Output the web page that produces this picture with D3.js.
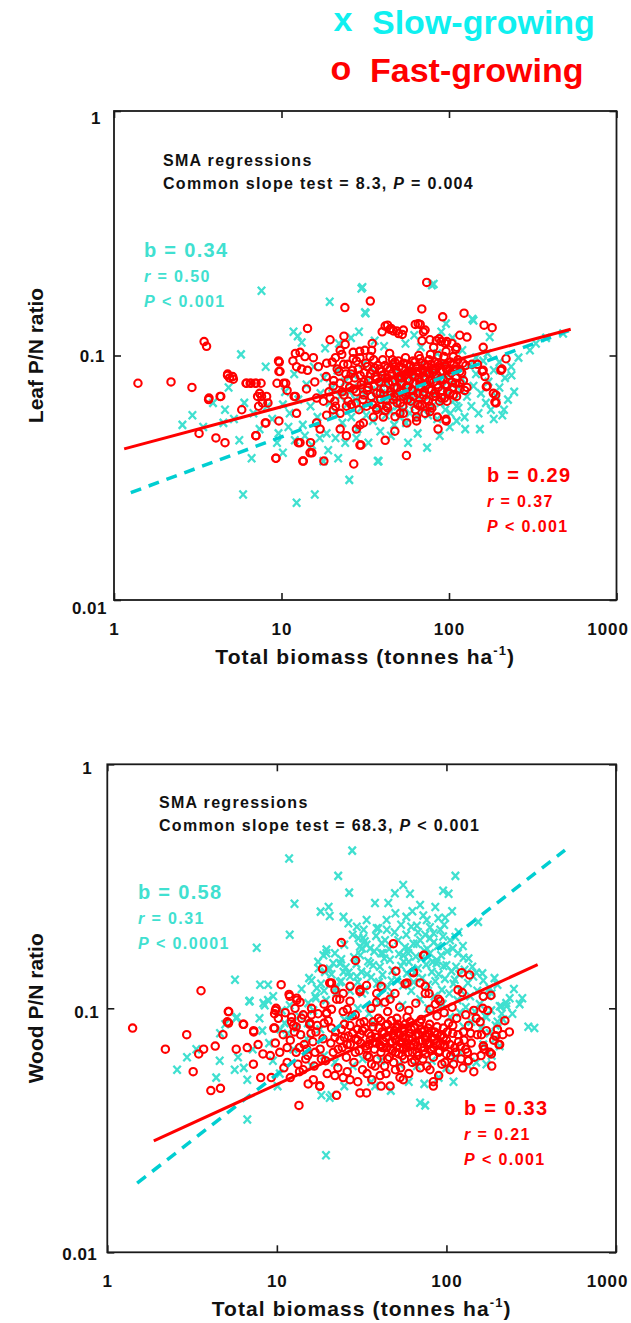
<!DOCTYPE html>
<html><head><meta charset="utf-8">
<script src="https://cdn.jsdelivr.net/npm/d3@7"></script>
<style>
body{margin:0;background:#fff}
svg{display:block}
text{font-family:"Liberation Sans",Arial,Helvetica,sans-serif;font-weight:bold}
</style></head>
<body><svg id="c" width="631" height="1323"></svg>
<script>
// ---------- axis ticks ----------
const xTickValues = [1, 10, 100, 1000];
const xTickLabels = ["1", "10", "100", "1000"];
const yTickValues = [0.01, 0.1, 1];
const yTickLabels = ["0.01", "0.1", "1"];
const seriesNames = ["Slow-growing", "Fast-growing"];

// ---------- Leaf P/N: slow-growing (x = total biomass, y = P/N) ----------
const leafSlow = [
[7.6,0.184],[30,0.188],[19.4,0.166],[31.8,0.149],[11.8,0.125],[5.73,0.101],[8.05,0.09],[4.83,0.074],[2.94,0.057],[2.56,0.052],
[3.41,0.051],[4.5,0.053],[5.6,0.045],[6.63,0.038],[5.9,0.027],[12.3,0.025],[15.8,0.027],[25.4,0.031],[17.8,0.037],[38,0.037],
[21.8,0.038],[10.2,0.04],[9.4,0.044],[74,0.042],[153,0.05],[185,0.055],[213,0.06],[236,0.083],[138,0.141],[175,0.119],
[81,0.196],[30.4,0.19],[96,0.135],[304,0.105],[101,0.051],[57,0.044],[111,0.054],[111,0.062],[82,0.08],[480,0.123],
[37.5,0.037],[31.5,0.15],[79,0.194],[140,0.139],
[10.5,0.071],[11.2,0.058],[11.9,0.084],[12.6,0.066],[13.4,0.052],[14.1,0.076],[14.9,0.062],[15.6,0.09],[16.4,0.056],[17.1,0.07],
[17.9,0.081],[18.6,0.048],[19.4,0.064],[20.1,0.074],[20.9,0.059],[21.6,0.087],[22.4,0.068],[23.1,0.053],[23.9,0.078],[24.6,0.063],
[25.4,0.071],[26.1,0.056],[26.9,0.083],[27.6,0.066],[28.4,0.05],[29.1,0.074],[29.9,0.061],[30.6,0.092],[31.4,0.069],[32.1,0.057],
[32.9,0.079],[33.6,0.064],[34.4,0.072],[35.1,0.054],[35.9,0.086],[36.6,0.067],[37.4,0.06],[38.1,0.075],[38.9,0.049],[39.6,0.07],
[40.4,0.082],[41.1,0.063],[41.9,0.057],[42.6,0.077],[43.4,0.068],[44.1,0.091],[44.9,0.059],[45.6,0.073],[46.4,0.065],[47.1,0.052],
[47.9,0.08],[48.6,0.07],[49.4,0.062],[50.1,0.085],[50.9,0.056],[51.6,0.074],[52.4,0.067],[53.1,0.079],[53.9,0.06],[54.6,0.071],
[55.4,0.053],[56.1,0.088],[56.9,0.065],[57.6,0.076],[58.4,0.058],[59.1,0.069],[60,0.082],[61.5,0.063],[63,0.073],[64.5,0.056],
[66,0.079],[67.5,0.066],[69,0.091],[70.5,0.06],[72,0.072],[73.5,0.084],[75,0.057],[76.5,0.068],[78,0.077],[79.5,0.062],
[81,0.087],[83,0.07],[85,0.055],[87,0.081],[89,0.064],[91,0.074],[93,0.093],[95,0.06],[97,0.069],[99,0.083],
[102,0.058],[105,0.076],[108,0.066],[111,0.088],[114,0.061],[117,0.072],[120,0.08],[124,0.056],[128,0.068],[132,0.091],
[136,0.062],[140,0.075],[145,0.084],[150,0.058],[155,0.07],[160,0.095],[166,0.064],[172,0.078],[178,0.06],[185,0.087],
[192,0.068],[200,0.074],[208,0.057],[216,0.081],[225,0.066],[235,0.09],[245,0.071],
[12.5,0.12],[13.2,0.113],[18.2,0.107],[22,0.112],[26,0.118],[29,0.125],[36,0.115],[41,0.109],[55,0.112],[62,0.121],
[68,0.108],[85,0.102],[90,0.125],[105,0.118],[120,0.105],[145,0.098],[170,0.102],[200,0.094],[260,0.098],[330,0.112],[380,0.118],
[3.9,0.064],[4.6,0.06],[5.2,0.055],[6,0.064],[6.8,0.058],[7.4,0.05],[8.2,0.062],[8.8,0.055],[9.6,0.048],[10.2,0.063],
[11,0.051],[12,0.045],[13.8,0.047],[15.2,0.043],[16.9,0.046],[19,0.041],[21,0.046],[24,0.044],[28,0.046],[33,0.044],
[45,0.047],[65,0.048],[88,0.047],[125,0.05]
];

// ---------- Leaf P/N: fast-growing ----------
const leafFast = [
[1.39,0.077],[2.19,0.078],[2.92,0.074],[3.45,0.114],[3.57,0.109],[3.67,0.066],[4.34,0.068],[3.22,0.048],[4.06,0.046],[4.6,0.044],
[4.77,0.084],[5.11,0.082],[5.79,0.06],[6.19,0.077],[6.58,0.077],[7.06,0.077],[7.55,0.077],[7.02,0.047],[8,0.053],[7.2,0.068],
[7.7,0.064],[8.15,0.068],[9.25,0.038],[9.7,0.094],[9.65,0.086],[9.4,0.077],[10.6,0.077],[9.65,0.054],[11.9,0.068],[11.7,0.095],
[12.3,0.058],[12.9,0.044],[13.4,0.037],[14.3,0.129],[14.9,0.044],[15.2,0.04],[23.9,0.157],[33.9,0.167],[27,0.036],
[73.6,0.199],[68.8,0.155],[91.7,0.144],[123,0.149],[162,0.133],[181,0.13],[62.9,0.134],[67.3,0.134],[70.4,0.125],[39.9,0.125],
[43,0.133],[45.1,0.129],[48.7,0.126],[52.6,0.122],[19.5,0.116],[23.6,0.12],[34.8,0.112],[34.5,0.105],[77,0.116],[87.4,0.117],
[94.9,0.112],[109.6,0.106],[116,0.121],[128,0.119],[160,0.108],[219,0.097],[204,0.087],[160,0.087],[148,0.092],[137,0.092],
[184,0.07],[191,0.064],[169,0.075],[164,0.082],[128,0.074],[111,0.068],[97.3,0.065],[96.2,0.054],[85.3,0.056],[77,0.059],
[55.7,0.039],[41.6,0.045],[47.5,0.049],[29.8,0.043],[17.9,0.037],[13.5,0.037],[14.8,0.04],[12.6,0.044],[9.27,0.038],[8.07,0.053],
[7.05,0.047],[4.3,0.068],[3.69,0.067],
[207,0.088],[158,0.086],[167,0.0745],[190,0.069],[188,0.0645],[116,0.077],[124,0.072],[96,0.0548],[77,0.062],[72,0.058],
[86,0.05],[30.8,0.053],[28,0.05],[29.4,0.043],[41.6,0.0595],[47.6,0.0562],[53.4,0.058],[64,0.054],[111,0.108],[104,0.112],
[97,0.114],[81,0.108],[84,0.115],[90,0.114],[69,0.115],[72,0.127],[41.6,0.132],[44.4,0.128],[46.5,0.126],[50,0.123],[53.4,0.127],[65.5,0.135],
[18.5,0.082],[19.2,0.071],[20.1,0.094],[20.8,0.065],[21.5,0.088],[22.3,0.077],[22.9,0.101],[23.6,0.069],[24.2,0.084],[24.9,0.092],
[25.5,0.074],[26.1,0.063],[26.8,0.097],[27.4,0.081],[28,0.071],[28.7,0.088],[29.3,0.104],[29.9,0.076],[30.6,0.066],[31.2,0.085],
[31.8,0.093],[32.5,0.072],[33.1,0.079],[33.8,0.099],[34.4,0.068],[35,0.087],[35.7,0.075],[36.3,0.082],[37,0.061],[37.6,0.091],
[38.3,0.078],[38.9,0.07],[39.6,0.086],[40.2,0.096],[40.9,0.073],[41.5,0.081],[42.2,0.066],[42.9,0.089],[43.5,0.077],[44.2,0.102],
[44.9,0.071],[45.6,0.084],[46.3,0.092],[47,0.068],[47.7,0.079],[48.4,0.087],[49.1,0.074],[49.8,0.095],[50.5,0.082],[51.2,0.064],
[52,0.077],[52.7,0.089],[53.5,0.071],[54.2,0.083],[55,0.098],[55.8,0.075],[56.6,0.066],[57.4,0.086],[58.2,0.079],[59,0.091],
[59.9,0.072],[60.7,0.083],[61.6,0.068],[62.5,0.094],[63.4,0.077],[64.3,0.086],[65.2,0.063],[66.1,0.081],[67.1,0.097],[68,0.074],
[69,0.088],[70,0.069],[71,0.082],[72,0.092],[73.1,0.076],[74.2,0.085],[75.3,0.065],[76.4,0.079],[77.5,0.101],[78.7,0.072],
[79.9,0.087],[81.1,0.078],[82.3,0.094],[83.6,0.068],[84.9,0.083],[86.2,0.074],[87.6,0.091],[89,0.08],[90.4,0.067],[91.9,0.086],
[93.4,0.099],[95,0.076],[96.6,0.088],[98.2,0.071],[100,0.083],[102,0.094],[104,0.078],[106,0.069],[108,0.087],[110,0.081],
[113,0.096],[116,0.073],[119,0.085],[122,0.079],[126,0.091],
[20.5,0.079],[22,0.086],[23.5,0.092],[25,0.08],[26.5,0.087],[28,0.095],[29.5,0.083],[31,0.078],[32.5,0.09],[34,0.084],
[35.5,0.096],[37,0.08],[38.5,0.088],[40,0.083],[41.5,0.091],[43,0.081],[44.5,0.088],[46,0.078],[47.5,0.094],[49,0.085],
[50.5,0.09],[52,0.081],[53.5,0.093],[55,0.084],[56.5,0.08],[58,0.09],[59.5,0.086],[61,0.095],[62.5,0.082],[64,0.09],
[65.5,0.085],[67,0.078],[68.5,0.093],[70,0.087],[72,0.08],[74,0.09],[76,0.084],[78,0.092],[80,0.085],[83,0.088],
[86,0.093],[89,0.086],[92,0.08],[95,0.091],[99,0.087],[103,0.085],[107,0.092],[111,0.088],[116,0.086],[121,0.093],
[9.6,0.095],[12.1,0.102],[12.9,0.103],[13.8,0.099],[15.5,0.098],[16.6,0.09],[18.6,0.093],[12.3,0.09],[13.2,0.088],[14.3,0.087],
[9.8,0.086],[10.3,0.077],[10.8,0.072],[12.1,0.068],[14.1,0.073],[15.8,0.078],[16.2,0.067],[17.8,0.065],[19.5,0.067],[20.4,0.075],
[21,0.098],[22.4,0.105],[24,0.111],[26.8,0.103],[29.4,0.098],[31.5,0.105],[7.4,0.07],[8.3,0.064],[7.3,0.062],[7.6,0.068],
[6.5,0.077],[6.95,0.077],[6.14,0.077],[4.9,0.081],[5.16,0.08],[4.76,0.083],[24.4,0.062],[22.4,0.058],[20.4,0.06],[18.6,0.057],
[16.2,0.053],[17,0.05],[22.4,0.05],[24.4,0.047],[29.4,0.052],[35.4,0.056],[40.5,0.056],[51,0.058],[56,0.053],[64,0.056],
[28,0.064],[32.2,0.062],[37,0.06],[42.4,0.062],[46.5,0.066],[53.4,0.068],[61,0.068],[67,0.062],[80.6,0.068],
[21,0.062],[23,0.071],[25,0.065],[27,0.073],[29,0.06],[31,0.069],[33,0.074],[35,0.063],[37,0.07],[39,0.066],
[41,0.073],[43,0.061],[45,0.069],[47,0.074],[49,0.064],[51,0.071],[53,0.062],[55,0.069],[57,0.074],[59,0.065],
[61,0.072],[63,0.06],[65,0.07],[67,0.075],[69,0.063],[71,0.071],[73,0.066],[76,0.073],[79,0.061],[82,0.07],
[85,0.076],[88,0.065],[91,0.072],[94,0.067],[97,0.075],[101,0.07],[105,0.074],[109,0.077],[26,0.084],[36,0.089],
[46,0.096],[56,0.092],[66,0.1],[76,0.096],[86,0.1],[96,0.104],[106,0.099]
];

// ---------- Wood P/N: slow-growing ----------
const woodSlow = [
[11.8,0.411],[27.8,0.443],[23,0.349],[26.7,0.298],[12.7,0.268],[11.9,0.2],[7.6,0.177],[18.1,0.249],[20.2,0.26],[20.5,0.239],
[24.7,0.237],[37.9,0.27],[45.4,0.27],[55.6,0.32],[49.7,0.296],[69.9,0.265],[33.8,0.23],[38.8,0.213],[44.4,0.23],[26.4,0.223],
[29.6,0.216],[30.3,0.194],[32.3,0.194],[33.8,0.182],[31.8,0.176],[19.6,0.168],[42.2,0.168],[55.6,0.165],[63.9,0.184],[58,0.237],
[67,0.218],[76.5,0.23],[21.5,0.153],[23.5,0.153],[29.6,0.135],[24.7,0.141],[19.2,0.141],[17.2,0.121],[22.4,0.121],[27,0.135],
[5.66,0.131],[7.96,0.125],[8.88,0.125],[6.87,0.107],[8.33,0.105],[9.51,0.112],[10.7,0.098],[5.8,0.092],[4.62,0.079],[13.1,0.083],
[15.2,0.087],[16.4,0.098],[31.8,0.115],[37,0.087],
[113,0.349],[95.6,0.303],[103,0.295],[61,0.295],[39.7,0.213],[89.6,0.234],[98.3,0.235],[154,0.226],[75,0.2],[80,0.194],
[84,0.203],[67,0.184],[59.6,0.168],[41.2,0.168],[35.4,0.153],[24,0.159],[18.8,0.165],[30.9,0.179],[33,0.188],[95.6,0.197],
[109,0.176],[117,0.168],[114,0.148],[128,0.144],[87.4,0.153],[144,0.135],[180,0.121],[236,0.11],[210,0.102],[304,0.084],
[216,0.09],[172,0.092],[194,0.075],[185,0.064],[126,0.084],[112,0.131],[17.6,0.146],[19.6,0.174],[23.7,0.153],
[172,0.059],[206,0.07],[112,0.0625],[69.9,0.041],[75,0.04],[37.9,0.048],[18.3,0.044],[21,0.044],[19.5,0.025],[226,0.102],[206,0.102],
[2.58,0.056],[2.95,0.063],[3.35,0.068],[4.6,0.061],[4.39,0.052],[5.64,0.056],[5.9,0.063],[6.38,0.057],[6.69,0.051],[6.69,0.035],
[5.76,0.091],[4.96,0.086],[6.92,0.107],[7.9,0.091],[8.48,0.103],[8.87,0.108],[11.9,0.103],[9.48,0.061],[10.4,0.054],[10.1,0.048],
[11.1,0.087],[11.6,0.079],[15.3,0.105],[17,0.11],[20.5,0.043],
[14,0.12],[15.5,0.133],[16.8,0.112],[18.2,0.126],[19.5,0.108],[21,0.138],[22.5,0.116],[24,0.129],[25.5,0.147],[27,0.118],
[28.5,0.162],[30,0.128],[31.5,0.141],[33,0.119],[34.5,0.156],[36,0.134],[37.5,0.171],[39,0.126],[40.5,0.148],[42,0.137],
[43.5,0.19],[45,0.122],[46.5,0.158],[48,0.143],[49.5,0.205],[51,0.131],[52.5,0.167],[54,0.149],[55.5,0.124],[57,0.178],
[58.5,0.139],[60,0.155],[62,0.216],[64,0.128],[66,0.163],[68,0.146],[70,0.19],[72,0.133],[74,0.172],[76,0.151],
[78,0.125],[80,0.168],[82,0.141],[84,0.186],[86,0.129],[88,0.157],[90,0.138],[92,0.21],[94,0.119],[96,0.149],
[98,0.132],[101,0.171],[104,0.115],[107,0.142],[110,0.126],[113,0.196],[116,0.108],[119,0.138],[122,0.118],[126,0.161],
[130,0.101],[134,0.127],[138,0.112],[142,0.148],[147,0.097],[152,0.118],[157,0.104],[163,0.139],[169,0.093],[176,0.112],
[184,0.098],[192,0.133],[200,0.088],[212,0.095],
[16,0.058],[19,0.064],[22,0.06],[25,0.048],[28,0.058],[32,0.062],[36,0.05],[41,0.061],[47,0.046],[53,0.059],
[60,0.05],[67,0.058],[74,0.049],[82,0.061],[90,0.052],[100,0.057],[110,0.05],[120,0.066],[135,0.058],[150,0.06],
[165,0.071],[180,0.079],[195,0.085],[245,0.095],[270,0.104],[330,0.083],
[25,0.09],[30,0.1],[35,0.095],[40,0.105],[47,0.112],[55,0.103],[62,0.118],[70,0.109],[78,0.1],[85,0.112],
[95,0.104],[105,0.092],[120,0.096],[140,0.088],[160,0.083],[15,0.075],[18,0.082],[12.5,0.068],[13.5,0.093],[10.5,0.082],
[9,0.072],[8.2,0.081],[7.2,0.068],
[16,0.13],[17.5,0.155],[19,0.118],[20.5,0.145],[22,0.168],[23.5,0.128],[25,0.182],[26.5,0.14],[28,0.2],[29.5,0.152],
[31,0.165],[32.5,0.21],[34,0.138],[35.5,0.176],[37,0.15],[38.5,0.198],[40,0.128],[41.5,0.185],[43,0.16],[44.5,0.21],
[46,0.175],[47.5,0.13],[50,0.245],[52,0.19],[54,0.22],[56,0.155],[58,0.2],[60,0.175],[63,0.25],[65,0.14],
[68,0.205],[71,0.16],[73,0.24],[77,0.175],[80,0.215],[83,0.155],[86,0.26],[89,0.18],[93,0.165],[97,0.22],
[100,0.15],[105,0.19],[108,0.25],[118,0.205],[125,0.18],[135,0.16],[150,0.14],[165,0.13],[185,0.115],[200,0.125],
[225,0.105],[250,0.12],[280,0.11]
];

// ---------- Wood P/N: fast-growing ----------
const woodFast = [
[3.57,0.118],[1.41,0.083],[2.94,0.078],[5.17,0.097],[5.1,0.088],[6.33,0.086],[7.3,0.081],[9.6,0.083],[9.8,0.098],[10.6,0.125],
[11.8,0.114],[13.1,0.11],[13.7,0.106],[16,0.1],[18.6,0.145],[24,0.186],[29.1,0.157],[48.6,0.184],[20.5,0.127],[23.5,0.109],
[27,0.107],[30.9,0.117],[33.8,0.124],[38.8,0.106],[43.4,0.106],[49.7,0.115],[57,0.126],[63.9,0.141],[73.3,0.165],[75,0.115],
[51,0.083],[24.6,0.097],[19.7,0.096],[14.3,0.094],[12.2,0.088],[15.7,0.087],
[2.2,0.068],[3.21,0.055],[3.46,0.065],[3.7,0.068],[4.08,0.046],[4.65,0.047],[4.33,0.07],[4.81,0.078],[5.19,0.087],[5.2,0.097],
[5.76,0.068],[6.37,0.086],[6.69,0.069],[7.3,0.08],[7.27,0.059],[7.75,0.071],[8.28,0.065],[8.03,0.052],[9.27,0.052],[9.14,0.064],
[9.69,0.083],[9.9,0.1],[9.69,0.095],[11.9,0.112],[13.1,0.108],[12.2,0.092],[12.7,0.08],[13.6,0.069],[13.3,0.059],[13.6,0.055],
[13.5,0.04],[15.3,0.049],[16,0.094],[15.6,0.086],[16.3,0.073],[18.3,0.062],[17.9,0.048],[19.6,0.095],
[221,0.089],[185,0.058],[206,0.071],[196,0.077],[161,0.078],[167,0.068],[134,0.061],[105,0.056],[83.7,0.05],[83.7,0.048],
[55.6,0.051],[53.2,0.052],[46.5,0.048],[41.2,0.048],[33.8,0.045],[30.9,0.045],[36.3,0.051],[40.6,0.053],[22.5,0.044],[17.9,0.048],
[16.4,0.051],[14.3,0.056],[27,0.051],[24.6,0.052],
[74,0.165],[50.3,0.142],[64,0.14],[123,0.14],[137,0.137],[117,0.119],[124,0.116],[165,0.112],[183,0.113],[164,0.1],
[194,0.077],[204,0.071],[165,0.07],[184,0.065],[135,0.061],[89.7,0.109],[91.7,0.107],[70,0.127],[75,0.123],[79,0.115],
[58.5,0.127],[46.5,0.109],[21,0.127],[22,0.119],[22.5,0.109],[24.6,0.115],[27,0.123],[30.9,0.119],[38.8,0.115],[41.2,0.123],
[14.5,0.071],[15.2,0.064],[15.9,0.079],[16.6,0.058],[17.3,0.085],[18,0.068],[18.7,0.075],[19.4,0.061],[20.1,0.089],[20.8,0.072],
[21.5,0.066],[22.2,0.08],[22.9,0.057],[23.6,0.074],[24.3,0.069],[25,0.086],[25.7,0.063],[26.4,0.077],[27.1,0.071],[27.8,0.093],
[28.5,0.06],[29.2,0.075],[29.9,0.082],[30.6,0.067],[31.3,0.072],[32,0.056],[32.7,0.088],[33.4,0.07],[34.1,0.064],[34.8,0.079],
[35.5,0.074],[36.2,0.059],[36.9,0.084],[37.6,0.068],[38.3,0.076],[39,0.062],[39.7,0.091],[40.4,0.071],[41.1,0.066],[41.8,0.08],
[42.5,0.073],[43.2,0.058],[43.9,0.085],[44.6,0.069],[45.3,0.077],[46,0.063],[46.7,0.072],[47.4,0.089],[48.1,0.067],[48.8,0.06],
[49.5,0.081],[50.2,0.074],[50.9,0.07],[51.6,0.086],[52.3,0.065],[53,0.078],[53.7,0.057],[54.4,0.073],[55.1,0.083],[55.8,0.068],
[56.5,0.062],[57.2,0.076],[57.9,0.071],[58.6,0.092],[59.3,0.066],[60,0.079],[61.4,0.07],[62.8,0.06],[64.2,0.084],[65.6,0.073],
[67,0.066],[68.4,0.078],[69.8,0.088],[71.2,0.069],[72.6,0.062],[74,0.081],[75.4,0.074],[76.8,0.058],[78.2,0.071],[79.6,0.086],
[81,0.067],[82.4,0.076],[83.8,0.063],[85.2,0.08],[86.6,0.072],[88,0.093],[90,0.066],[92,0.077],[94,0.059],[96,0.083],
[98,0.07],[100,0.074],[103,0.087],[106,0.064],[109,0.079],[112,0.069],[115,0.091],[118,0.073],[122,0.062],[126,0.08],
[130,0.068],[135,0.085],[140,0.072],[146,0.063],[152,0.078],[158,0.088],[165,0.07],[172,0.081],[180,0.066],[190,0.074],
[22,0.076],[24,0.082],[26,0.071],[28,0.079],[30,0.074],[32,0.081],[34,0.068],[36,0.077],[38,0.072],[40,0.083],
[42,0.069],[44,0.076],[46,0.081],[48,0.073],[50,0.066],[52,0.079],[54,0.072],[56,0.08],[58,0.069],[60,0.075],
[62,0.082],[64,0.071],[66,0.077],[68,0.064],[70,0.074],[72,0.08],[74,0.069],[76,0.077],[78,0.083],[80,0.072],
[84,0.069],[88,0.078],[92,0.071],[96,0.076],[100,0.065],[35,0.063],[45,0.062],[55,0.064],[65,0.061],[75,0.065],
[31,0.087],[41,0.089],[51,0.091],[61,0.088],[71,0.09],
[9.8,0.072],[10.4,0.066],[10.9,0.078],[11.5,0.06],[12,0.074],[12.5,0.085],[13,0.066],[13.8,0.078],[14,0.091],[10.2,0.091],
[11.2,0.096],[12.8,0.1],[17.5,0.095],[19,0.104],[21,0.099],[11,0.057],[12,0.052],[14.8,0.062],[16.8,0.066],[19.8,0.054],
[22,0.053],[26,0.055],[30,0.05],[34,0.054],[38,0.058],[44,0.054],[50,0.056],[60,0.054],[70,0.057],[80,0.056],
[90,0.053],[98,0.06],[110,0.059],[125,0.057],[145,0.055],[160,0.064],
[26,0.099],[29,0.094],[36,0.1],[45,0.097],[53,0.101],[60,0.098],[66,0.105],[80,0.099],[86,0.104],[97,0.096],
[108,0.101],[130,0.094],[145,0.098],[150,0.091],[175,0.098],[200,0.082],[215,0.078],[235,0.08],
[21,0.083],[23,0.068],[25,0.076],[27,0.085],[29,0.066],[31,0.078],[33,0.083],[35,0.071],[37,0.088],[39,0.076],
[41,0.07],[43,0.079],[45,0.086],[47,0.068],[49,0.077],[51,0.084],[53,0.069],[55,0.076],[57,0.086],[59,0.072],
[61,0.079],[63,0.066],[65,0.083],[67,0.07],[69,0.078],[71,0.082],[73,0.067],[75,0.077],[77,0.072],[79,0.079],
[82,0.068],[85,0.075],[88,0.084],[91,0.067],[94,0.078],[97,0.071],[101,0.08],[105,0.071],[109,0.085],[113,0.066],
[117,0.078],[121,0.07],[127,0.074],[133,0.066],[139,0.079],[17,0.08],[19,0.087],[15,0.068],[13,0.084],[11.5,0.069]
];

// ---------- SMA regression lines (endpoints, data units) ----------
const leafSlowFit = [[1.26,0.0275],[530,0.127]];
const leafFastFit = [[1.15,0.0415],[533,0.128]];
const woodSlowFit = [[1.5,0.0192],[500,0.445]];
const woodFastFit = [[1.88,0.0286],[345,0.151]];

// ---------- annotation texts ----------
const leafStats = {test:["8.3", "= 0.004"], slow:["0.34","0.50","< 0.001"], fast:["0.29","0.37","< 0.001"]};
const woodStats = {test:["68.3", "< 0.001"], slow:["0.58","0.31","< 0.0001"], fast:["0.33","0.21","< 0.001"]};

// ---------- drawing ----------
const TURQ = "#40e0d0", DASH = "#00ced1", RED = "#ff0000", LEGCYAN = "#0ff0f0", FRAME = "#1a1a1a";
const svg = d3.select("#c");

// legend
const leg = svg.append("g");
leg.append("text").attr("x",343).attr("y",31).attr("text-anchor","middle").attr("font-size",34).attr("fill",LEGCYAN).text("x");
leg.append("text").attr("x",372).attr("y",34).attr("font-size",34).attr("fill",LEGCYAN).text(seriesNames[0]);
leg.append("text").attr("x",341).attr("y",80).attr("text-anchor","middle").attr("font-size",34).attr("fill",RED).text("o");
leg.append("text").attr("x",370).attr("y",82).attr("font-size",34).attr("fill",RED).text(seriesNames[1]);

function panel(cfg){
  const g = svg.append("g");
  const x = d3.scaleLog().domain([1,1000]).range([cfg.left,cfg.right]);
  const y = d3.scaleLog().domain([0.01,1]).range([cfg.bottom,cfg.top]);

  // slow-growing x markers
  g.append("g").selectAll("path").data(cfg.slow).join("path")
    .attr("transform", d => `translate(${x(d[0]).toFixed(1)},${y(d[1]).toFixed(1)})`)
    .attr("d","M-3.7,-4L3.7,4M3.7,-4L-3.7,4")
    .attr("fill","none").attr("stroke",TURQ).attr("stroke-width",2.3);
  // fast-growing o markers
  g.append("g").selectAll("circle").data(cfg.fast).join("circle")
    .attr("cx", d => x(d[0])).attr("cy", d => y(d[1])).attr("r",3.7)
    .attr("fill","none").attr("stroke",RED).attr("stroke-width",2.1);

  const line = d3.line().x(d => x(d[0])).y(d => y(d[1]));
  g.append("path").datum(cfg.slowFit).attr("d",line).attr("fill","none")
    .attr("stroke",DASH).attr("stroke-width",3.5).attr("stroke-dasharray","11,8");
  g.append("path").datum(cfg.fastFit).attr("d",line).attr("fill","none")
    .attr("stroke",RED).attr("stroke-width",3);

  // frame
  g.append("rect").attr("x",cfg.left).attr("y",cfg.top)
    .attr("width",cfg.right-cfg.left).attr("height",cfg.bottom-cfg.top)
    .attr("fill","none").attr("stroke",FRAME).attr("stroke-width",1.8);

  // axes (inward ticks on all four sides)
  const styleAxis = sel => {
    sel.select(".domain").remove();
    sel.selectAll(".tick line").attr("stroke",FRAME).attr("stroke-width",1.6);
    sel.attr("font-family",null).attr("font-size",null);
  };
  const xb = g.append("g").attr("transform",`translate(0,${cfg.bottom})`)
    .call(d3.axisBottom(x).tickValues(xTickValues).tickFormat((d,i)=>xTickLabels[i])
      .tickSizeInner(-7).tickSizeOuter(0).tickPadding(23)).call(styleAxis);
  xb.selectAll(".tick text").attr("font-size",17).attr("letter-spacing","1px").attr("fill","#111")
    .attr("dy",null).attr("y",35)
    .attr("text-anchor",(d,i)=> i===xTickValues.length-1 ? "end" : "middle")
    .attr("x",(d,i)=> i===xTickValues.length-1 ? 12 : 0);
  g.append("g").attr("transform",`translate(0,${cfg.top})`)
    .call(d3.axisTop(x).tickValues(xTickValues).tickFormat("").tickSizeInner(-7).tickSizeOuter(0)).call(styleAxis);
  const yl = g.append("g").attr("transform",`translate(${cfg.left},0)`)
    .call(d3.axisLeft(y).tickValues(yTickValues).tickFormat((d,i)=>yTickLabels[i])
      .tickSizeInner(-7).tickSizeOuter(0).tickPadding(8)).call(styleAxis);
  yl.selectAll(".tick text").attr("font-size",17).attr("letter-spacing","0.5px").attr("fill","#111")
    .attr("dy",null).attr("y",(d,i)=>cfg.yLabDy[i]).attr("x",(d,i)=>cfg.yLabDx[i]);
  g.append("g").attr("transform",`translate(${cfg.right},0)`)
    .call(d3.axisRight(y).tickValues(yTickValues).tickFormat("").tickSizeInner(-7).tickSizeOuter(0)).call(styleAxis);

  // axis titles
  const xt = g.append("text").attr("x",(cfg.left+cfg.right)/2).attr("y",cfg.bottom+64)
    .attr("text-anchor","middle").attr("font-size",21).attr("letter-spacing","1.1px").attr("fill","#111");
  xt.append("tspan").text("Total biomass (tonnes ha");
  xt.append("tspan").attr("font-size",13).attr("dy",-9).text("-1");
  xt.append("tspan").attr("dy",9).text(")");
  g.append("text").attr("transform",`translate(43,${(cfg.top+cfg.bottom)/2}) rotate(-90)`)
    .attr("text-anchor","middle").attr("font-size",21).attr("fill","#111").text(cfg.ytitle);

  // SMA header
  g.append("text").attr("x",cfg.sma[0]).attr("y",cfg.sma[1]).attr("font-size",16)
    .attr("letter-spacing","1.3px").attr("fill","#111").text("SMA regressions");
  const ct = g.append("text").attr("x",cfg.sma[0]).attr("y",cfg.sma[1]+23).attr("font-size",16)
    .attr("letter-spacing","1.3px").attr("fill","#111");
  ct.append("tspan").text(`Common slope test = ${cfg.stats.test[0]}, `);
  ct.append("tspan").attr("font-style","italic").text("P");
  ct.append("tspan").text(` ${cfg.stats.test[1]}`);

  // per-group statistics
  const statBlock = (pos, s, color) => {
    g.append("text").attr("x",pos[0]).attr("y",pos[1]).attr("font-size",20)
      .attr("letter-spacing","1.3px").attr("fill",color).text(`b = ${s[0]}`);
    const r = g.append("text").attr("x",pos[0]).attr("y",pos[1]+25).attr("font-size",16)
      .attr("letter-spacing","1.4px").attr("fill",color);
    r.append("tspan").attr("font-style","italic").text("r");
    r.append("tspan").text(` = ${s[1]}`);
    const p = g.append("text").attr("x",pos[0]).attr("y",pos[1]+50).attr("font-size",16)
      .attr("letter-spacing","1.4px").attr("fill",color);
    p.append("tspan").attr("font-style","italic").text("P");
    p.append("tspan").text(` ${s[2]}`);
  };
  statBlock(cfg.slowPos, cfg.stats.slow, TURQ);
  statBlock(cfg.fastPos, cfg.stats.fast, RED);
}

panel({left:114, right:616.5, top:111, bottom:600, slow:leafSlow, fast:leafFast,
  slowFit:leafSlowFit, fastFit:leafFastFit, ytitle:"Leaf P/N ratio", stats:leafStats,
  sma:[163,166], slowPos:[144,257], fastPos:[487,482],
  yLabDy:[13,6,12], yLabDx:[-7,-9,-13]});
panel({left:107.3, right:616, top:764.3, bottom:1252.3, slow:woodSlow, fast:woodFast,
  slowFit:woodSlowFit, fastFit:woodFastFit, ytitle:"Wood P/N ratio", stats:woodStats,
  sma:[159,808], slowPos:[138,899], fastPos:[464,1115],
  yLabDy:[7,9,9], yLabDx:[-10,-8,-15]});
</script></body></html>
